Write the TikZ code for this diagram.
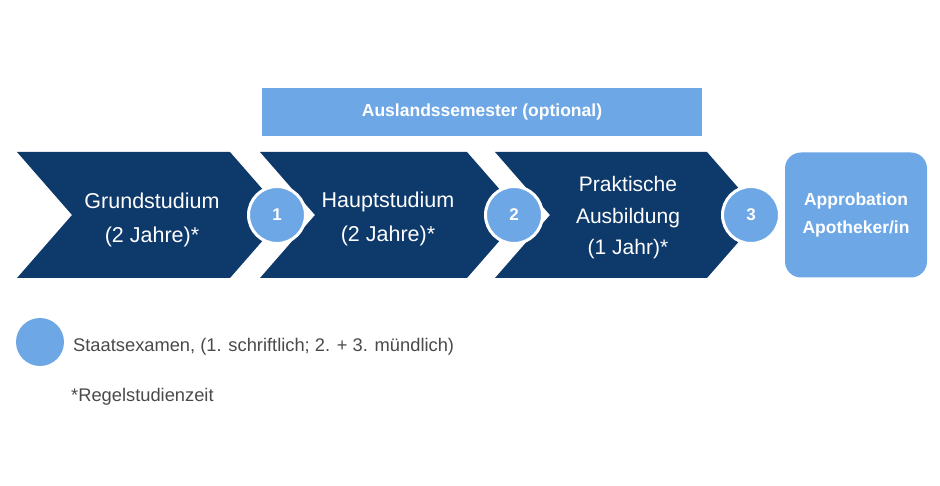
\documentclass[tikz,border=0pt]{standalone}
\usepackage{fontspec}
\setmainfont{Liberation Sans}
\definecolor{navy}{HTML}{0E396B}
\definecolor{lightb}{HTML}{6DA7E6}
\definecolor{legtext}{HTML}{4A4A4A}
\begin{document}
\begin{tikzpicture}[x=1pt,y=-1pt,
  chev/.style={fill=navy},
  chevtext/.style={text=white,font=\fontsize{21.5}{33.5}\selectfont,align=center},
  exam/.style={circle,fill=lightb,draw=white,line width=3pt,minimum size=57pt,inner sep=0pt,text=white,font=\bfseries\fontsize{17}{20}\selectfont},
  lbox/.style={fill=lightb,text=white,font=\bfseries\fontsize{17.5}{28}\selectfont,align=center,inner sep=0pt}]
\useasboundingbox[fill=white] (0,0) rectangle (940,486);
% Auslandssemester bar
\node[lbox,minimum width=440pt,minimum height=48pt] (ausl) at (482,112) {Auslandssemester (optional)};
% chevrons
\fill[chev] (17,152) -- (230,152) -- (285,215) -- (230,278) -- (17,278) -- (72,215) -- cycle;
\fill[chev] (260,152) -- (467,152) -- (522,215) -- (467,278) -- (260,278) -- (315,215) -- cycle;
\fill[chev] (495,152) -- (707,152) -- (762,215) -- (707,278) -- (495,278) -- (550,215) -- cycle;
\node[chevtext] (grund) at (152,220) {Grundstudium\\(2 Jahre)*};
\node[chevtext] (haupt) at (388,219) {Hauptstudium\\(2 Jahre)*};
\node[chevtext,font=\fontsize{21}{31.5}\selectfont] (prak) at (628,218) {Praktische\\Ausbildung\\(1 Jahr)*};
% exam circles
\node[exam] (e1) at (277,215) {1};
\node[exam] (e2) at (514,215) {2};
\node[exam] (e3) at (751,215) {3};
% Approbation
\node[lbox,rounded corners=16pt,minimum width=142pt,minimum height=125pt] (appr) at (856,215) {Approbation\\Apotheker/in};
% legend
\node[circle,fill=lightb,minimum size=48pt,inner sep=0pt] (leg) at (40,342) {};
\node[anchor=west,text=legtext,font=\fontsize{18.3}{22}\selectfont,inner sep=0pt] (legt) at (73,347) {Staatsexamen, (1. schriftlich; 2. + 3. mündlich)};
\node[anchor=west,text=legtext,font=\fontsize{18.3}{22}\selectfont,inner sep=0pt] (regel) at (71,397) {*Regelstudienzeit};
\end{tikzpicture}
\end{document}
